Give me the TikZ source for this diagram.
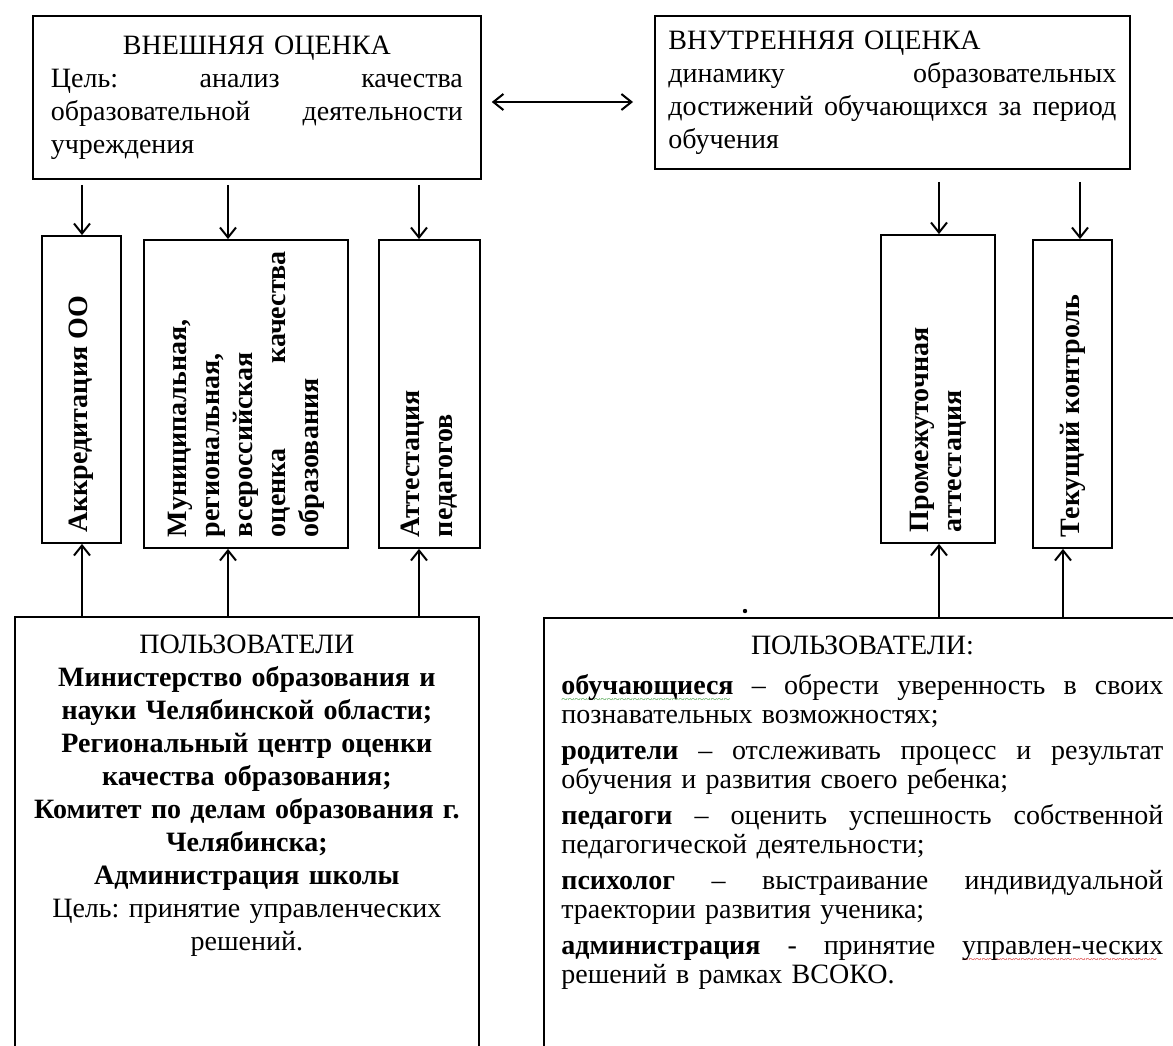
\documentclass[tikz,border=0pt]{standalone}
\usepackage{fontspec}
\setmainfont{Liberation Serif}
\usepackage{graphicx}
\usetikzlibrary{arrows.meta,positioning}
\definecolor{wavegreen}{RGB}{70,160,70}
\definecolor{wavered}{RGB}{215,45,45}
\setlength{\parindent}{0pt}
% one line stretched to the full width
\newcommand{\fulline}[1]{\makebox[\hsize][s]{\spaceskip=0pt\xspaceskip=0pt #1}}
\newcommand{\midline}[1]{\makebox[\hsize][c]{#1}}
% spell-check waves
\newsavebox{\wavebox}
\newcommand{\wavy}[2]{\sbox{\wavebox}{#2}\rlap{\lower4.5pt\hbox to \wd\wavebox{\color{#1}\fontsize{6}{6}\selectfont\leaders\hbox{\char`\~}\hfill}}\usebox{\wavebox}}

\begin{document}
\begin{tikzpicture}[x=0.5pt, y=-0.5pt,
    panel/.style={draw, line width=0.9pt, inner sep=0pt},
    txt/.style={font=\fontsize{14}{16.5}\selectfont\frenchspacing},
    arr/.style={line width=1pt, -{Straight Barb[length=5pt,width=8pt]}},
    dbl/.style={line width=1pt, {Straight Barb[length=5pt,width=8pt]}-{Straight Barb[length=5pt,width=8pt]}}]
        \useasboundingbox (0,0) rectangle (1173,1045);
        \clip (0,0) rectangle (1173,1045);

        % Oценки
        \node[panel, txt, anchor=north west, minimum width=224pt, minimum height=81.5pt,
              text width=206pt, align=left] (ext) at (32,15) {%
            \midline{ВНЕШНЯЯ ОЦЕНКА}\\
            \fulline{Цель: анализ качества}\\
            \fulline{образовательной деятельности}\\
            учреждения};
        \node[panel, txt, anchor=north west, minimum width=237.5pt, minimum height=76.5pt,
              text width=224pt, align=left] (int) at (654,15) {%
            ВНУТРЕННЯЯ ОЦЕНКА\\
            \fulline{динамику образовательных}\\
            \fulline{достижений обучающихся за период}\\
            обучения};

        % Формы оценки (вертикальный текст)
        \node[panel, txt, minimum width=39.5pt, minimum height=153.5pt] (acc) at (81.5,389.5)
            {\rotatebox{90}{\parbox{143pt}{\raggedright\bfseries Аккредитация ОО}}};
        \node[panel, txt, minimum width=102pt, minimum height=154pt] (mun) at (246,394)
            {\rotatebox{90}{\parbox{143pt}{\raggedright\bfseries Муниципальная,\\ региональная,\\ всероссийская\\ \fulline{оценка качества}\\ образования}}};
        \node[panel, txt, minimum width=50.5pt, minimum height=154pt] (att) at (429.5,394)
            {\rotatebox{90}{\parbox{143pt}{\raggedright\bfseries Аттестация\\ педагогов}}};
        \node[panel, txt, minimum width=57pt, minimum height=154pt] (prom) at (938,389)
            {\rotatebox{90}{\parbox{143pt}{\raggedright\bfseries Промежуточная\\ аттестация}}};
        \node[panel, txt, minimum width=39.5pt, minimum height=154pt] (tek) at (1072.5,394)
            {\rotatebox{90}{\parbox{143pt}{\raggedright\bfseries Текущий контроль}}};

        % Пользователи
        \node[panel, anchor=north west, minimum width=232pt, minimum height=225pt] (usersL) at (14,616) {};
        \node[txt, below=9.5pt of usersL.north, inner sep=0pt, text width=228pt, align=center] (usersLtxt) {%
            ПОЛЬЗОВАТЕЛИ\\
            \textbf{Министерство образования и}\\
            \textbf{науки Челябинской области;}\\
            \textbf{Региональный центр оценки}\\
            \textbf{качества образования;}\\
            \textbf{Комитет по делам образования г.}\\
            \textbf{Челябинска;}\\
            \textbf{Администрация школы}\\
            Цель: принятие управленческих\\
            решений.};
        \node[panel, anchor=north west, minimum width=323.5pt, minimum height=225pt] (usersR) at (543,617) {};
        \node[txt, below right=9.5pt and 9pt of usersR.north west, inner sep=0pt, text width=301pt, align=left,
              font=\fontsize{14}{14.5}\selectfont] (usersRtxt) {%
            \midline{ПОЛЬЗОВАТЕЛИ:}\\[5.5pt]
            \fulline{\wavy{wavegreen}{\textbf{обучающиеся}} – обрести уверенность в своих}\\
            познавательных возможностях;\\[3.5pt]
            \fulline{\textbf{родители} – отслеживать процесс и результат}\\
            обучения и развития своего ребенка;\\[3.5pt]
            \fulline{\textbf{педагоги} – оценить успешность собственной}\\
            педагогической деятельности;\\[3.5pt]
            \fulline{\textbf{психолог} – выстраивание индивидуальной}\\
            траектории развития ученика;\\[3.5pt]
            \fulline{\textbf{администрация} - принятие \wavy{wavered}{управлен-ческих}}\\
            решений в рамках ВСОКО.};
        \fill (745,611) circle (1.1pt);

        % Стрелки
        \coordinate (c1) at (82,0);
        \coordinate (c2) at (228,0);
        \coordinate (c3) at (419,0);
        \coordinate (c4) at (939,0);
        \coordinate (c5) at (1080,0);
        \coordinate (c6) at (1063,0);
        \coordinate (ymid) at (0,102);
        \draw[dbl, shorten <=5pt, shorten >=10.5pt] (ext.east |- ymid) -- (int.west |- ymid);
        \foreach \c/\n in {c1/acc, c2/mun, c3/att} {
            \draw[arr, shorten <=2.5pt] (ext.south -| \c) -- (\n.north -| \c);
            \draw[arr] (usersL.north -| \c) -- (\n.south -| \c);
        }
        \draw[arr, shorten <=6pt] (int.south -| c4) -- (prom.north -| c4);
        \draw[arr, shorten <=6pt] (int.south -| c5) -- (tek.north -| c5);
        \draw[arr] (usersR.north -| c4) -- (prom.south -| c4);
        \draw[arr] (usersR.north -| c6) -- (tek.south -| c6);
\end{tikzpicture}
\end{document}
